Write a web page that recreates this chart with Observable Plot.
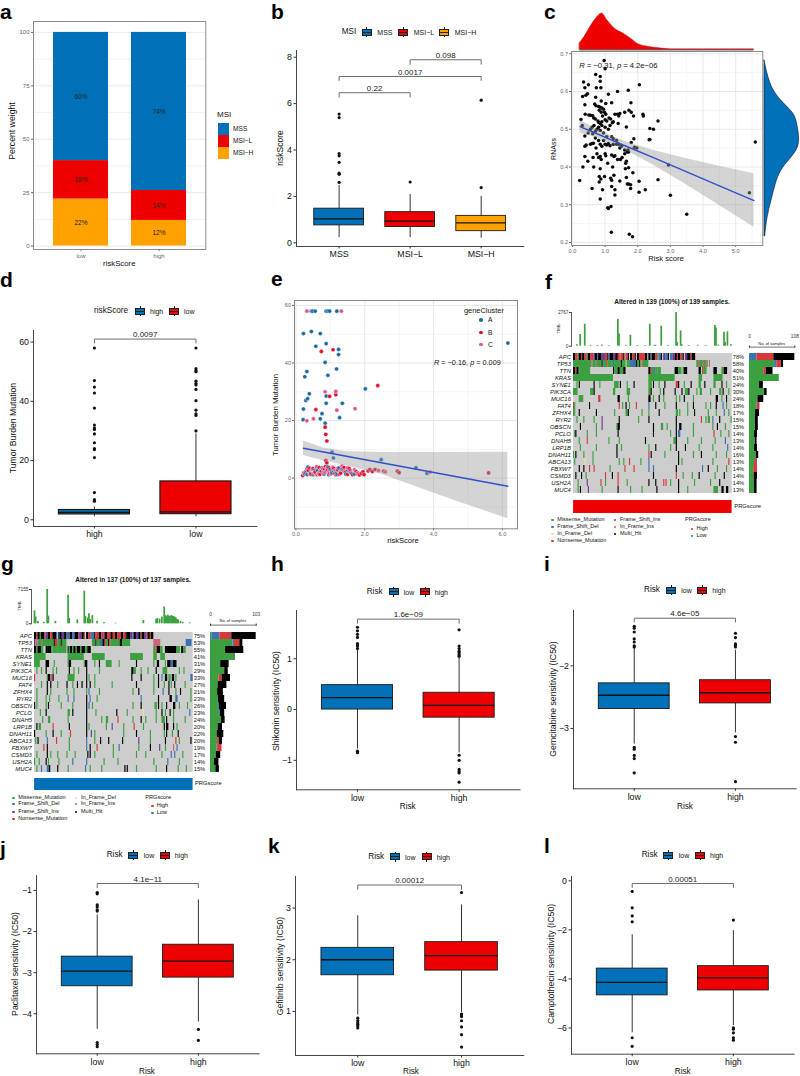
<!doctype html>
<html><head><meta charset="utf-8">
<script src="https://cdn.jsdelivr.net/npm/d3@7"></script>
<script src="https://cdn.jsdelivr.net/npm/@observablehq/plot@0.6"></script>
<style>
html,body{margin:0;background:#fff}
#page{position:relative;width:800px;height:1076px;overflow:hidden;font-family:"Liberation Sans",Arial,sans-serif;color:#111}
.t{position:absolute;white-space:nowrap;line-height:1}
.k{position:absolute;box-sizing:border-box}
</style></head><body><div id="page"></div>
<script>
const BLUE="#0070B8", RED="#EE0000", ORANGE="#FFA200";
// ---- panel a
const aRisk=["low","high"], aMsi=["MSI−H","MSI−L","MSS"], aColors=[ORANGE,RED,BLUE];
const aLow=[22,18,60], aHigh=[12,14,74];
// ---- panel b: [whiskerLow,q1,median,q3,whiskerHigh]
const bLabels=["MSS","MSI−L","MSI−H"];
const bStats=[[.22,.75,1.03,1.47,2.47],[.22,.68,.93,1.32,2.08],[.2,.5,.86,1.16,2]];
const bOut=[[2.6,2.95,3,3.47,3.75,3.85,5.4,5.55],[2.62],[2.38,6.15]];
// ---- panel c
const cPoints=[[.97,.682],[1,.66],[.71,.645],[.85,.64],[.34,.625],[.49,.618],[.85,.627],[.73,.61],[.87,.61],[.38,.61],[2.05,.618],[1.38,.6],[1.71,.603],[1.1,.593],[.46,.594],[.41,.59],[.31,.587],[.71,.585],[.38,.565],[.68,.567],[.72,.562],[.8,.56],[.88,.575],[1.02,.568],[1.2,.57],[1.79,.57],[.85,.558],[.9,.556],[.95,.553],[.82,.55],[.88,.545],[.98,.545],[1.02,.54],[.92,.535],[.5,.538],[.55,.537],[.62,.536],[.65,.53],[.39,.54],[.26,.526],[.7,.527],[.78,.522],[.8,.518],[.85,.515],[.9,.52],[1.0,.525],[1.05,.522],[1.12,.53],[1.17,.527],[1.22,.517],[1.25,.52],[1.3,.54],[1.38,.54],[1.42,.535],[1.45,.542],[1.6,.545],[1.73,.55],[1.8,.545],[1.87,.535],[2.17,.535],[2.16,.54],[2.62,.522],[.3,.51],[.38,.482],[.48,.49],[.55,.5],[.6,.505],[.62,.488],[.66,.51],[.7,.495],[.75,.5],[.8,.505],[.85,.497],[.9,.51],[.95,.49],[1.0,.505],[1.05,.48],[1.1,.5],[1.15,.51],[1.2,.48],[1.25,.475],[1.35,.47],[1.4,.515],[1.42,.46],[1.65,.506],[2.37,.502],[2.48,.5],[2.37,.473],[2.35,.472],[1.88,.475],[1.8,.465],[.38,.455],[.42,.458],[.55,.46],[.6,.462],[.64,.463],[.7,.477],[.72,.45],[.8,.47],[.85,.46],[.9,.455],[.95,.47],[1.0,.46],[1.05,.458],[1.1,.462],[1.15,.456],[1.25,.46],[1.3,.43],[1.35,.46],[1.45,.45],[1.5,.455],[1.6,.445],[1.68,.44],[1.7,.445],[1.72,.44],[1.9,.452],[1.97,.45],[.38,.428],[.75,.435],[.63,.425],[.8,.425],[.85,.428],[.88,.42],[1,.435],[1.02,.43],[1.2,.432],[1.27,.428],[1.38,.42],[1.47,.42],[1.52,.425],[1.6,.435],[1.63,.41],[1.65,.415],[.65,.4],[.32,.4],[.47,.415],[.85,.395],[1.08,.41],[1.23,.4],[1.62,.395],[1.72,.398],[1.85,.385],[2.94,.405],[.82,.375],[.98,.375],[.87,.368],[.82,.36],[1.17,.37],[1.2,.365],[1.27,.378],[1.45,.363],[1.65,.372],[1.72,.355],[1.78,.353],[.22,.364],[.6,.343],[.92,.34],[1.2,.348],[1.3,.34],[1.3,.326],[1.68,.355],[1.78,.343],[2.04,.362],[2.04,.333],[2.23,.34],[2.62,.366],[3,.325],[5.42,.332],[5.6,.466],[.85,.315],[1.08,.292],[1.1,.29],[1.18,.295],[1.19,.227],[1.74,.222],[1.84,.215],[3.5,.275]];
const cBandX=[.23,.7,1.2,1.7,2.5,3.5,4.5,5.56];
const cBandFit=[.507,.49,.471,.453,.424,.387,.35,.311];
const cBandLo=[.49,.478,.46,.441,.404,.352,.298,.24];
const cBandHi=[.524,.502,.482,.465,.444,.422,.402,.382];
const cTopX=[.22,.36,.56,.77,.9,1.07,1.33,1.58,1.79,2.04,2.3,2.6,3.11,4,5,5.56];
const cTopD=[.185,.35,.65,.91,1,.81,.56,.44,.31,.15,.09,.055,.02,.02,.02,.02];
const cSideY=[.682,.647,.603,.567,.541,.514,.47,.444,.417,.391,.355,.311,.267,.216];
const cSideD=[0,.08,.217,.547,.85,.925,1,.925,.69,.45,.31,.2,.075,.02];
// ---- panel d
const dLabels=["high","low"];
const dStats=[[1,1.8,2.5,3.3,4.3],[1,1.9,2.7,12.95,29]];
const dOut=[[58,47,44.8,42.8,37.7,32,31,30.5,29,26,24,23.7,21,9.2,6.8,6.3],[58,51,50.3,50,46.8,46,45.5,44,40.2,37,35.8,35.2,30]];
// ---- panel e
const eA=[[.45,58],[.49,58],[.56,58],[.88,58],[.93,58],[.98,58],[1.19,58],[.22,50.2],[.45,50.9],[.71,50.2],[.58,45.8],[.88,46.7],[1.24,44.7],[1.24,42.9],[.85,40.2],[1.18,37.9],[.32,37],[.26,35.2],[.93,35.7],[2.02,31],[.39,29.3],[.88,28.5],[.34,27.6],[.29,27],[.88,26],[1.35,26],[.22,24],[.21,20.3],[1.27,21],[.76,22.4],[.71,20.6],[.85,19.1],[6.16,46.9],[1.05,9],[1.09,7],[2.48,6.4],[3.49,3.6],[3.81,1.6],[.25,1.5],[.3,2.5],[.35,3.8],[.42,1.7],[.5,1.2],[.55,2.8],[.6,3.4],[.66,1.5],[.7,2.2],[.76,3.6],[.82,1.4],[.9,2.6],[.95,1.2],[1,3.1],[1.05,1.8],[1.1,2.4],[1.2,1.3],[1.25,3.5],[1.3,1.9],[1.38,2.7],[1.45,1.4],[1.55,2.2],[1.62,1.6],[.33,1.2],[.47,3.1],[.63,2.6],[.79,1.9],[.93,3.9],[1.07,3.3],[1.17,1.7],[1.33,3.1],[1.5,2.8],[1.7,1.4]];
const eB=[[.74,44],[1.08,44.6],[2.38,32.1],[1.16,29],[.98,28.4],[.58,23.8],[.85,17.7],[.87,15.2],[.9,12.9],[.87,6.1],[.9,5.3],[.2,.9],[.28,1.9],[.36,2.7],[.44,1.3],[.5,3.3],[.56,2.1],[.62,1.2],[.68,3.7],[.74,2.4],[.8,1.5],[.86,4],[.92,2.9],[.98,1.6],[1.04,2.3],[1.1,3.4],[1.16,1.2],[1.22,2.8],[1.3,1.7],[1.36,3.2],[1.44,2],[1.5,1.3],[1.58,2.5],[1.65,1.2],[1.75,2.3],[1.85,1.1],[1.9,1.6],[1.98,1.2],[2.1,2.5],[2.15,3],[2.22,2.3],[2.3,3],[2.55,2.4],[2.95,2.4],[3,1.9],[5.6,1.8],[.4,3.4],[.52,1.7],[.7,1.3],[.83,3.1],[.96,3.6],[1.12,1.6],[1.26,1.4],[1.4,3.7],[1.55,3.3],[1.78,1.5],[1.95,2.2]];
const eC=[[.32,58],[1.32,58],[.85,30],[1.16,30.1],[1.19,23.6],[1.72,24.1],[.51,20.6],[.32,19.9],[.22,1.8],[.32,3.2],[.4,1.4],[.48,3],[.54,2],[.6,3.9],[.66,1.6],[.72,2.7],[.78,3.2],[.84,1.9],[.9,3.4],[.96,2.2],[1.02,1.4],[1.08,3.8],[1.14,2.7],[1.2,3.3],[1.28,2.2],[1.34,4.2],[1.42,2.5],[1.5,3.6],[1.6,1.9],[1.7,2.9],[1.8,1.8],[2.4,2.6],[2.6,2.2],[3.9,2.1]];
const eLineX=[.22,6.16], eLineY=[10.4,-2.8];
const eBandX=[.22,.8,1.5,2.5,3.5,4.5,6.16];
const eBandLo=[7.9,6,4.2,1.3,-3,-7.3,-14.1];
const eBandHi=[12.9,10.5,9.2,8.9,8.9,8.9,9];
// ---- oncoplots
const genes=["APC","TP53","TTN","KRAS","SYNE1","PIK3CA","MUC16","FAT4","ZFHX4","RYR2","OBSCN","PCLO","DNAH5","LRP1B","DNAH11","ABCA13","FBXW7","CSMD3","USH2A","MUC4"];
const mutCodes=["g","b","y","r","p","o","k"];
const mutNames=["Missense_Mutation","Frame_Shift_Del","In_Frame_Del","Nonsense_Mutation","Frame_Shift_Ins","In_Frame_Ins","Multi_Hit"];
const mutColors=["#3CA040","#3A73B0","#E8E49A","#D9383A","#6A3D9A","#C9657A","#000000"];
const fPct=[78,58,40,51,24,30,24,18,17,15,15,14,13,14,16,13,14,14,14,13];
const gPct=[75,53,55,41,31,29,33,27,21,23,26,23,24,20,22,20,19,17,14,15];
const fRows=[
"0.2k 2.2r 4.1g 5.2k 7.1r 8.2k 10.2r 12.1g 13.2k 15.3r 18.1p 19.2k 21.1b 22.3k 25.3p 28.2r 30.1k 31.1b 32.3k 35.2p 37.3k 39.2r 41.1o 42.2r 44.1k 46.2r 48.1k 50.2k 52.2r 54.1k 56.2k 58.5r 63.2k 66.2k 68.1b 69.3k 72.2r 74.1g 75.2b 77.1k 79.2p 81.2b 83.1k 85.2b 87.2p 89.2k 91.1r 92.2k 94.2r 96.1k 98.2p 100.3k 103.1r 104.3k",
"0.16g 16.1o 17.3g 20.1o 21.4g 25.1k 26.3g 29.1r 30.4g 34.1g 35.1b 36.6g 42.1k 43.3g 47.3g 50.5b 55.1k 56.2g 58.1k 60.1r 61.5g 108.2g 110.1r 111.2g 113.1o 114.2g 116.1r 117.1g 119.1o",
"0.2k 2.1r 3.2k 5.1g 6.9g 35.1k 36.3g 39.2k 41.3g 44.2k 66.2k 68.1r 69.2g 71.1b 72.2g 74.3g 89.3k 92.3g 96.1g 97.3k 110.2k 113.1r 114.3g 123.3k 130.2g 132.3k",
"0.35g 66.23g 110.3g 123.8g",
"3.1g 5.1k 18.1k 23.1g 36.4g 41.1k 47.1g 53.1k 66.3g 70.1k 75.1g 80.1k 90.2r 92.1k 97.1g 103.1k 110.2g 115.1k 123.2g 130.1k 134.1g",
"0.4g 15.3g 18.1k 35.2g 47.3g 66.2g 68.1k 76.1g 79.1k 89.1k 95.1k 98.3g 101.1k 108.1g 111.2g 120.1g 128.2g 131.1k 136.1g",
"5.3g 8.1g 22.2r 39.2k 48.1g 66.2k 70.1g 75.1k 79.1g 90.1g 93.1g 97.1k 105.1g 125.2k 130.1g 134.1k",
"0.1r 1.1g 14.1k 40.1r 43.1g 46.1k 49.1g 55.1r 66.1b 72.1k 80.1g 90.1k 100.1g 105.1k 116.1g 120.1g 125.1k 131.1b 134.1g",
"0.1g 1.1g 5.1k 20.1k 36.1g 46.2g 48.1k 60.1g 66.1g 75.1k 90.2g 93.1g 100.1g 106.1k 118.1g 125.1g 132.1b 136.1g",
"3.1g 9.1g 18.1g 25.1p 40.1k 57.1g 66.1k 90.1k 112.1r 116.1g 118.2g 122.1b 128.1k 138.1g",
"6.1k 20.1g 25.1p 38.1g 39.2k 70.1k 77.2g 82.1g 90.1k 93.2k 105.1g 122.1g 126.1k 133.1g",
"1.1g 2.1k 12.1g 20.1g 39.1k 70.1k 85.1g 90.1k 92.2b 105.1g 123.1r 129.1g 136.1g",
"5.1g 12.1r 31.1g 40.1g 63.1k 88.2g 90.1k 100.1g 112.1g 124.1g 133.1b",
"6.1g 20.1g 38.1k 42.1g 66.1g 72.1k 85.1g 90.1k 98.1k 110.1g 122.1g 135.1b",
"0.1g 2.1k 9.1g 17.1g 38.1k 66.1r 68.1k 80.1g 92.1k 105.1g 112.1k 125.1g 134.1g",
"1.1g 10.1y 17.1g 40.1g 44.1g 49.1r 59.1g 66.1b 92.1k 95.1g 122.1g 136.1r",
"5.1k 9.1k 14.1r 18.1r 32.1g 45.1r 53.1r 66.1b 70.1b 90.1k 113.1b 118.1k 126.1g 134.1g",
"2.1k 7.1k 11.1g 28.1r 34.1k 39.1r 70.1k 90.1r 96.1g 104.1g 110.1k 124.1g 132.1k",
"4.1g 12.1p 24.1r 28.1g 39.1r 47.1g 66.1k 72.1k 79.1r 81.1r 85.1g 92.1k 106.1g 120.1g 128.1k",
"4.1g 6.1k 13.1p 25.1g 39.1k 50.1g 60.1g 73.1k 92.1k 100.1g 123.4g 130.2k 134.2k"];
const gRows=[
"0.2k 2.1r 3.2k 5.1g 6.3k 9.1r 10.2p 12.2k 14.2r 16.3k 19.1b 21.1k 22.2k 24.2p 26.2k 28.3b 31.2k 33.2b 35.3k 38.1r 39.2p 41.2k 43.1r 45.2k 47.2r 49.1b 50.2b 52.1k 53.3r 56.2k 58.2r 60.1p 61.2k 63.3r 66.2k 68.2r 70.2k 72.3r 75.2k 77.2r 79.1k 80.3k 83.2p 85.1b 86.2k 88.2p 90.2k 92.1r 93.2k 95.2p 97.1r 98.2k 100.1r 101.2k",
"0.1p 1.2o 3.3g 6.1o 7.10g 17.1k 18.2r 20.3g 23.1k 24.4g 50.3g 53.1k 54.3g 57.2b 59.2k 61.1r 62.2g 64.1k 65.1r 66.8g 74.2k 76.7g 103.6o 131.5b",
"0.2k 2.1g 3.3k 6.2g 10.2k 12.3k 15.1g 16.4g 20.8g 29.1k 30.1g 31.2k 33.1g 34.2k 36.1g 37.3k 40.1g 41.3k 44.2g 46.3k 103.2g 105.1r 106.3k 109.2g 113.10k 123.3g 127.2k 129.2g",
"0.10g 29.14g 50.11g 83.11g 103.3g 109.4g",
"0.5g 10.3k 17.1g 29.1g 30.2k 43.1g 44.2k 52.1g 56.1k 62.5g 73.1g 88.1k 103.1g 106.2k 113.1g 115.3k 118.2b 120.3k",
"2.1g 6.1g 10.1k 16.1g 19.1g 30.1k 34.1g 38.1g 45.1k 56.1g 84.2k 86.2g 92.1g 98.1g 105.1k 111.4g 125.1g 129.1g",
"0.1r 11.1g 12.2k 14.2o 16.1k 29.6g 45.1k 47.1g 52.1g 84.1k 92.1k 103.1g 107.1k 110.1b 113.2k 116.2g 119.2k 122.1g 135.2b",
"6.1g 11.1k 14.1k 20.1g 28.1k 33.1g 37.1k 41.1k 45.1k 48.1k 52.1g 67.1g 88.1k 103.1g 107.1k 112.1g 116.1k 118.1g 121.1k 130.1g",
"2.1g 11.1k 14.1g 28.1g 34.1g 45.1g 47.1b 56.1g 85.1g 90.1k 103.1g 111.1b 116.1k 122.1g 126.1k 135.1g",
"2.1g 10.1g 13.1g 21.1g 29.1b 34.1b 45.1k 48.1b 54.1g 92.1b 107.1k 117.2k 122.2b 135.1g",
"0.1k 2.1g 10.1g 12.1k 23.1g 33.1g 45.1k 47.1b 50.1g 85.1g 92.1k 104.2g 107.1k 110.1g 114.1k 120.2k 125.1g 132.1g",
"5.1g 10.1k 29.2g 33.1k 45.1k 53.1g 71.1k 80.1g 94.1y 105.1g 110.1k 113.1g 117.1k 120.1g 134.1b",
"7.1g 12.2g 29.1g 45.1k 58.1g 62.2g 72.1r 85.1g 92.1k 96.1g 105.1g 110.3g 114.1k 120.1g 130.1g",
"2.1k 4.2g 16.1r 30.1k 45.1k 47.1g 62.1g 67.1p 77.1g 86.1r 94.1g 112.1k 114.2k 120.1k 123.1g",
"0.1k 10.1g 16.1k 23.1g 31.1r 45.1k 49.1p 52.1g 77.1g 88.1k 100.1g 112.1g 114.1k 119.1g 124.1k",
"1.1g 3.1k 11.1b 19.1r 30.1g 45.1b 52.1g 57.1k 64.1k 76.1k 90.1p 100.1g 113.1k 122.1r 125.1g 135.1k",
"8.1r 11.1k 30.1g 45.1b 48.1k 54.1r 68.1g 73.1b 90.1g 100.1k 108.1p 113.1g 120.1o 123.1b",
"2.1g 11.1k 14.1g 20.1g 28.1g 35.1g 46.1k 48.1k 52.1g 68.1g 88.1g 96.1g 110.1g 118.1b 121.1b 128.1g",
"0.1g 4.1g 10.1k 12.1g 21.1g 33.1b 45.1b 60.1g 72.1g 103.1g 115.1b 125.1g",
"2.1g 6.1b 11.2b 13.1k 20.1k 29.1g 44.1b 48.1g 58.1g 78.1k 80.1k 88.1g 105.1g 114.1k 124.1g 131.1g"];
const fBars=[[0,18,40,50],[60,5,11,5],[34,0,6,16],[71,0,0,0],[24,0,0,9],[36,0,0,6],[20,0,0,14],[18,1,6,0],[14,0,0,10],[14,0,0,7],[14,0,0,7],[12,0,0,7],[14,0,0,4],[12,0,0,7],[16,0,0,6],[12,0,4,2],[10,0,9,0],[10,0,1,8],[12,0,0,6],[12,0,0,6]];
const gBars=[[3,18,27,55],[51,3,12,7],[34,0,0,41],[55,0,0,1],[23,0,0,19],[32,0,0,8],[19,0,7,19],[17,0,0,20],[16,0,0,13],[18,0,0,14],[18,2,0,16],[20,2,0,10],[25,0,0,8],[16,1,0,10],[15,0,0,15],[16,0,4,7],[15,1,10,0],[13,0,0,10],[9,0,0,10],[12,0,0,8]];
const barCols=["#3CA040","#3A73B0","#D9383A","#000000"];
const fTmbIdx=[2,5,9,14,20,24,30,38,39,45,49,55,62,66,70,71,76,82,89,90,93,94,100,108,115,123,124,126,131,132,134,137];
const fTmbVal=[120,950,1800,70,60,90,50,2200,1000,70,900,60,50,1800,60,80,1650,70,2767,300,1250,120,60,70,60,1700,1500,90,1150,300,1180,130];
const gTmbIdx=[0,1,3,8,11,12,18,29,30,37,43,44,46,47,48,50,54,60,70,94,105,106,108,110,112,113,114,115,116,117,118,119,120,121,122,123,124,126,128,134];
const gTmbVal=[2700,1400,500,300,7155,1600,500,5950,1100,800,6800,1500,1200,2100,900,1700,500,250,100,700,900,1100,1000,1400,3500,1700,1500,1800,1600,1500,1700,1600,1500,1400,1200,900,800,500,300,200];
// ---- drug panels
const riskLabels=["low","high"];
const hStats=[[-.78,0,.235,.48,1.19],[-.85,-.16,.08,.33,1.04]];
const hOut=[[1.62,1.55,1.48,1.42,1.3,1.27,1.25,1.2,-.82,-.85],[1.57,1.25,1.2,1.15,1.12,1.08,1.05,-.9,-1,-1.18,-1.22,-1.25,-1.43]];
const iStats=[[-3.25,-2.69,-2.47,-2.28,-1.72],[-3.07,-2.6,-2.43,-2.23,-1.75]];
const iOut=[[-1.37,-1.4,-1.46,-1.57,-1.62,-1.68,-1.7,-3.3,-3.33,-3.43,-3.48,-3.71],[-1.48,-1.55,-1.65,-1.67,-1.7,-3.13,-3.22,-3.85]];
const jStats=[[-4.38,-3.33,-2.96,-2.61,-1.6],[-4.2,-3.12,-2.72,-2.32,-1.23]];
const jOut=[[-1.05,-1.08,-1.35,-1.4,-1.47,-1.5,-4.7,-4.75,-4.8],[-4.38,-4.65]];
const kStats=[[.93,1.7,2,2.23,2.85],[.98,1.79,2.08,2.34,3.06]];
const kOut=[[.87,.82,.78,.75,.72,.68],[3.3,.95,.93,.9,.82,.7,.55,.31]];
const lStats=[[-6.2,-4.67,-4.14,-3.58,-2.2],[-5.9,-4.47,-3.96,-3.48,-2.03]];
const lOut=[[-.43,-1.1,-1.43,-1.67,-6.4,-6.75],[-1.6,-6,-6.05,-6.2,-6.4,-6.5]];

// ---- helpers
const page=document.getElementById("page");
function txt(x,y,s,o={}){
  const e=document.createElement("div");e.className="t";e.innerHTML=s;
  const size=o.size||8;
  e.style.cssText+=`left:${x}px;top:${y}px;font-size:${size}px;color:${o.color||"#111"};font-weight:${o.weight||"normal"};`;
  const tx=o.anchor==="middle"?"-50%":o.anchor==="end"?"-100%":"0";
  e.style.transform=`translate(${tx},-50%)`+(o.rotate?` rotate(${o.rotate}deg)`:"");
  page.append(e);
}
function ytitle(x,y,s,size=8.7){
  const e=document.createElement("div");e.className="t";e.textContent=s;
  e.style.cssText+=`left:${x}px;top:${y}px;font-size:${size}px;transform:translate(-50%,-50%) rotate(-90deg);color:#111`;
  page.append(e);
}
function place(x0,x1,y0,y1,m,spec){
  const [t,r,b,l]=m;
  const svg=Plot.plot({width:x1-x0+l+r,height:y1-y0+t+b,marginTop:t,marginRight:r,marginBottom:b,marginLeft:l,
    style:{background:"transparent",overflow:"visible",fontFamily:'"Liberation Sans",Arial,sans-serif',color:"#111"},...spec});
  svg.style.position="absolute";svg.style.left=(x0-l)+"px";svg.style.top=(y0-t)+"px";svg.style.maxWidth="none";
  page.append(svg);
}
function boxKey(x,y,c){
  const w=document.createElement("div");w.className="k";w.style.cssText+=`left:${x+4.5}px;top:${y-5}px;width:1px;height:10px;background:#222`;page.append(w);
  const b=document.createElement("div");b.className="k";b.style.cssText+=`left:${x}px;top:${y-3.5}px;width:10px;height:7px;background:${c};border:1px solid #222`;page.append(b);
  const m=document.createElement("div");m.className="k";m.style.cssText+=`left:${x}px;top:${y-.5}px;width:10px;height:1px;background:#222`;page.append(m);
}
function dotKey(x,y,c,s=2.6){
  const b=document.createElement("div");b.className="k";b.style.cssText+=`left:${x-s/2}px;top:${y-s/2}px;width:${s}px;height:${s}px;border-radius:50%;background:${c}`;page.append(b);
}
function boxPanel(c){
  const n=c.labels.length, hw=.35;
  const rows=c.stats.map((s,i)=>({pos:i+1,wl:s[0],q1:s[1],med:s[2],q3:s[3],wh:s[4],color:c.colors[i]}));
  const outs=c.out.flatMap((a,i)=>a.map(v=>({pos:i+1,v})));
  const brs=(c.brackets||[]);
  const brLines=brs.map(b=>Plot.line([[b.a,b.tip],[b.a,b.y],[b.b,b.y],[b.b,b.tip]],{stroke:"#6b6b6b",strokeWidth:b.w||1}));
  const brText=brs.map(b=>Plot.text([[(b.a+b.b)/2,b.y]],{text:[b.text],fontSize:8,dy:-4.5,fill:"#222"}));
  place(c.x0,c.x1,c.y0,c.y1,[4,4,24,24],{
    x:{domain:[.4,n+.6]},y:{domain:c.yd},color:{type:"identity"},
    marks:[
      Plot.frame({anchor:"left",stroke:"#444",strokeWidth:1}),
      Plot.frame({anchor:"bottom",stroke:"#444",strokeWidth:1}),
      Plot.axisX({ticks:rows.map(r=>r.pos),tickFormat:i=>c.labels[i-1],tickSize:2.5,tickPadding:2,fontSize:8.8,label:null,stroke:"#333"}),
      Plot.axisY({ticks:c.yt,tickFormat:d3.format("~g"),tickSize:2.5,tickPadding:2,fontSize:8.8,label:null,stroke:"#333"}),
      Plot.ruleX(rows,{x:"pos",y1:"wl",y2:"wh",stroke:"#333",strokeWidth:1}),
      Plot.rect(rows,{x1:d=>d.pos-hw,x2:d=>d.pos+hw,y1:"q1",y2:"q3",fill:"color",stroke:"#1a1a1a",strokeWidth:c.boxStroke||.9}),
      Plot.ruleY(rows,{y:"med",x1:d=>d.pos-hw,x2:d=>d.pos+hw,stroke:"#111",strokeWidth:1.3}),
      Plot.dot(outs,{x:"pos",y:"v",r:1.6,fill:"#111"}),
      ...brLines,...brText
    ]});
}
function riskLegend(title,xt,keys,y){
  txt(xt,y,title,{size:8.2});
  keys.forEach(k=>{boxKey(k.x,y,k.c);txt(k.tx,y,k.s,{size:7});});
}
function letter(x,cy,s){txt(x,cy,s,{size:21,weight:"bold",color:"#000"});}
function zipPts(a){return a.map(([x,y])=>({x,y}));}

// ---- letters
[[0,10.5,"a"],[271,10.5,"b"],[544,10.5,"c"],[0,279,"d"],[271,278,"e"],[545,281,"f"],[1,563,"g"],[271,563,"h"],[544,563,"i"],[0,848,"j"],[268,845,"k"],[544,845,"l"]].forEach(a=>letter(...a));

// ---- a
{
  const rows=aMsi.flatMap((m,i)=>[{risk:"low",m,pct:aLow[i],c:aColors[i]},{risk:"high",m,pct:aHigh[i],c:aColors[i]}]);
  place(32.7,205,21,249,[4,4,20,24],{
    x:{domain:aRisk,paddingInner:.3,paddingOuter:.25},y:{domain:[-1.6,105.1]},color:{type:"identity"},
    marks:[
      Plot.gridY([12.5,37.5,62.5,87.5],{stroke:"#f3f3f3",strokeOpacity:1}),
      Plot.gridY([0,25,50,75,100],{stroke:"#ebebeb",strokeOpacity:1}),
      Plot.axisX({tickSize:2,tickPadding:2,fontSize:6,label:null,color:"#666"}),
      Plot.axisY({ticks:[0,25,50,75,100],tickSize:2,tickPadding:2,fontSize:6,label:null,color:"#666"}),
      Plot.barY(rows,{x:"risk",y:"pct",fill:"c"}),
      Plot.text(rows,Plot.stackY({x:"risk",y:"pct",text:d=>d.pct+"%",fontSize:6.6,fill:"#222"})),
      Plot.frame({stroke:"#8a8a8a",strokeWidth:1})
    ]});
  ytitle(12.3,131,"Percent weight",8.7);
  txt(119.3,264.3,"riskScore",{size:7.8,anchor:"middle"});
  txt(217,115,"MSI",{size:8});
  [["MSS",BLUE,129],["MSI−L",RED,141],["MSI−H",ORANGE,153]].forEach(([s,c,y])=>{
    const b=document.createElement("div");b.className="k";b.style.cssText+=`left:217.5px;top:${y-5.8}px;width:11.6px;height:11.6px;background:${c}`;page.append(b);
    txt(233,y,s,{size:6.6});
  });
}
// ---- b
boxPanel({x0:295.7,x1:523,y0:50,y1:246,labels:bLabels,stats:bStats,out:bOut,colors:[BLUE,RED,ORANGE],yd:[-.16,8.29],yt:[0,2,4,6,8],
  brackets:[{a:1,b:2,y:6.47,tip:6.28,text:"0.22"},{a:1,b:3,y:7.17,tip:7,text:"0.0017"},{a:2,b:3,y:7.89,tip:7.7,text:"0.098"}]});
ytitle(280,148.3,"riskScore",8.5);
riskLegend("MSI",341.7,[{x:361.7,c:BLUE,tx:377.3,s:"MSS"},{x:398.3,c:RED,tx:413.7,s:"MSI−L"},{x:439.3,c:ORANGE,tx:454.7,s:"MSI−H"}],32);
// ---- c
{
  const pts=zipPts(cPoints);
  const band=cBandX.map((x,i)=>({x,lo:cBandLo[i],hi:cBandHi[i],fit:cBandFit[i]}));
  place(570.7,762,51,245,[4,4,20,24],{
    x:{domain:[-.03,5.83]},y:{domain:[.192,.706]},
    marks:[
      Plot.gridX([.5,1.5,2.5,3.5,4.5,5.5],{stroke:"#f4f4f4",strokeOpacity:1}),
      Plot.gridY([.25,.35,.45,.55,.65],{stroke:"#f4f4f4",strokeOpacity:1}),
      Plot.gridX([0,1,2,3,4,5],{stroke:"#e8e8e8",strokeOpacity:1}),
      Plot.gridY([.2,.3,.4,.5,.6,.7],{stroke:"#e8e8e8",strokeOpacity:1}),
      Plot.axisX({ticks:[0,1,2,3,4,5],tickSize:2,tickPadding:1.5,fontSize:5.6,label:null,color:"#666"}),
      Plot.axisY({ticks:[.2,.3,.4,.5,.6,.7],tickSize:2,tickPadding:1.5,fontSize:5.6,label:null,color:"#666",tickFormat:d3.format(".1f")}),
      Plot.dot(pts,{x:"x",y:"y",r:1.75,fill:"#0a0a0a"}),
      Plot.areaY(band,{x:"x",y1:"lo",y2:"hi",fill:"#999",fillOpacity:.42}),
      Plot.line(band,{x:"x",y:"fit",stroke:"#3050C8",strokeWidth:1.4}),
      Plot.frame({stroke:"#8a8a8a",strokeWidth:1})
    ]});
  place(570.7,762,13,49.5,[1,1,1,1],{x:{domain:[-.03,5.83],axis:null},y:{domain:[0,1],axis:null},
    marks:[Plot.areaY(cTopX.map((x,i)=>({x,d:cTopD[i]})),{x:"x",y:"d",fill:RED,stroke:"#c00",strokeWidth:.4,curve:"monotone-x"}),
           Plot.ruleY([0],{x1:.22,x2:5.56,stroke:"#333",strokeWidth:.8})]});
  place(764,799.5,51,245,[1,1,1,1],{y:{domain:[.192,.706],axis:null},x:{domain:[0,1],axis:null},
    marks:[Plot.areaX(cSideY.map((y,i)=>({y,d:cSideD[i]})),{y:"y",x:"d",fill:BLUE,stroke:"#113",strokeWidth:.6,curve:"basis"})]});
  ytitle(552.7,148.7,"RNAss",7);
  txt(666,259,"Risk score",{size:7.6,anchor:"middle"});
  txt(579.3,65.7,"<i>R</i> = −0.31, <i>p</i> = 4.2e−06",{size:7.6});
}
// ---- d
boxPanel({x0:33.3,x1:256.7,y0:330,y1:526,labels:dLabels,stats:dStats,out:dOut,colors:[BLUE,RED],yd:[-2.26,63.9],yt:[0,20,40,60],boxStroke:1.15,
  brackets:[{a:1,b:2,y:61,tip:59.7,text:"0.0097"}]});
ytitle(12.7,427.5,"Tumor Burden Mutation",8.65);
riskLegend("riskScore",94,[{x:135,c:BLUE,tx:150,s:"high"},{x:169,c:RED,tx:184,s:"low"}],311);
// ---- e
{
  const groups=[[eA,"#1A6AA6"],[eB,"#E01030"],[eC,"#E8508F"]];
  const band=eBandX.map((x,i)=>({x,lo:eBandLo[i],hi:eBandHi[i]}));
  const fit=eLineX.map((x,i)=>({x,y:eLineY[i]}));
  const allPts=d3.sort(groups.flatMap(([g,c])=>g.map(([x,y])=>({x,y,c}))),d=>d.x);
  place(294.3,517.3,300,528.3,[4,4,20,24],{
    x:{domain:[-.04,6.44]},y:{domain:[-17.6,61.7]},color:{type:"identity"},
    marks:[
      Plot.gridX([1,3,5],{stroke:"#f4f4f4",strokeOpacity:1}),
      Plot.gridY([-10,10,30,50],{stroke:"#f4f4f4",strokeOpacity:1}),
      Plot.gridX([0,2,4,6],{stroke:"#e8e8e8",strokeOpacity:1}),
      Plot.gridY([0,20,40,60],{stroke:"#e8e8e8",strokeOpacity:1}),
      Plot.axisX({ticks:[0,2,4,6],tickSize:2,tickPadding:1.5,fontSize:5.6,label:null,color:"#666"}),
      Plot.axisY({ticks:[0,20,40,60],tickSize:2,tickPadding:1.5,fontSize:5.6,label:null,color:"#666"}),
      Plot.dot(allPts,{x:"x",y:"y",r:2.1,fill:"c",stroke:"#fff",strokeWidth:.4}),
      Plot.areaY(band,{x:"x",y1:"lo",y2:"hi",fill:"#999",fillOpacity:.42}),
      Plot.line(fit,{x:"x",y:"y",stroke:"#3050C8",strokeWidth:1.4}),
      Plot.frame({stroke:"#8a8a8a",strokeWidth:1})
    ]});
  ytitle(276,415,"Tumor Burden Mutation",7.85);
  txt(403,541,"riskScore",{size:7.6,anchor:"middle"});
  txt(464,311,"geneCluster",{size:7.4});
  [["A","#1A6AA6",320],["B","#E01030",332.7],["C","#E8508F",344.7]].forEach(([s,c,y])=>{dotKey(481,y,c,3.6);txt(488,y,s,{size:6.6});});
  txt(434,363.3,"<i>R</i> = −0.16, <i>p</i> = 0.009",{size:7.3});
}
// ---- oncoplots
function onco(c){
  const cells=genes.flatMap((g,i)=>[...c.rows[i].matchAll(/(\d+)\.(\d+)([a-z])/g)].map(m=>({g,x1:+m[1],x2:+m[1]+ +m[2],t:m[3]})));
  const bg=genes.map(g=>({g,x1:0,x2:c.n}));
  const colorScale={domain:mutCodes,range:mutColors};
  // TMB
  const per=(c.x1-c.x0)/c.n;
  const tmb=c.tmbIdx.map((x,i)=>({x1:x,x2:x+1.5,v:c.tmbVal[i]}));
  place(c.x0-2.6,c.x1,c.tmbTop,c.tmbBot,[1,2,1,14],{
    x:{domain:[-2.6/per,c.n],axis:null},y:{domain:[0,c.tmbMax]},
    marks:[Plot.frame({anchor:"left",stroke:"#333",strokeWidth:.8}),
      Plot.axisY({ticks:[0,c.tmbMax],tickFormat:d=>String(d),tickSize:2,tickPadding:1,fontSize:4.8,label:null,color:"#333"}),
      Plot.rectY(tmb,{x1:"x1",x2:"x2",y:"v",fill:"#3CA040"})]});
  txt(c.x0-14,(c.tmbTop+c.tmbBot)/2,"TMB",{size:4.4,anchor:"middle",rotate:-90});
  // matrix
  place(c.x0,c.x1,c.top,c.bot,[1,22,1,40],{
    x:{domain:[0,c.n],axis:null},y:{domain:genes,padding:.07,label:null},color:colorScale,
    marks:[
      Plot.axisY({anchor:"left",tickSize:0,tickPadding:2.6,fontSize:5.9,fontStyle:"italic",label:null,color:"#111"}),
      Plot.axisY({anchor:"right",tickSize:0,tickPadding:.6,fontSize:5.7,label:null,color:"#111",tickFormat:g=>c.pct[genes.indexOf(g)]+"%"}),
      Plot.barX(bg,{x1:"x1",x2:"x2",y:"g",fill:"#CDCDCD"}),
      Plot.barX(cells,{x1:"x1",x2:"x2",y:"g",fill:"t"})
    ]});
  // side bars
  const stack=genes.flatMap((g,i)=>c.bars[i].map((n,j)=>({g,n,col:barCols[j],j})));
  place(c.bx0,c.bx1,c.top,c.bot,[14,3,1,3],{
    x:{domain:[0,c.bmax]},y:{domain:genes,padding:.07,axis:null},color:{type:"identity"},
    marks:[
      Plot.frame({anchor:"top",dy:-2.4,stroke:"#333",strokeWidth:.7}),
      Plot.axisX({anchor:"top",ticks:[0,c.bmax],tickSize:2,tickPadding:7,dy:-2.4,fontSize:4.8,label:null,color:"#333",tickFormat:d=>String(d)}),
      Plot.barX(stack,{x:"n",y:"g",fill:"col"})
    ]});
  txt((c.bx0+c.bx1)/2,c.top-5.6,"No. of samples",{size:4,anchor:"middle"});
  // annotation bar
  place(c.x0,c.x1,c.aTop,c.aBot,[0,1,0,1],{x:{domain:[0,c.n],axis:null},y:{domain:[0,1],axis:null},color:{type:"identity"},
    marks:[Plot.rect([{x1:0,x2:c.n,y1:0,y2:1,f:c.aCol}],{x1:"x1",x2:"x2",y1:"y1",y2:"y2",fill:"f"})]});
  txt(c.x1+2.3,(c.aTop+c.aBot)/2,"PRGscore",{size:5.8});
  txt((c.tx),c.ty,c.title,{size:6.5,weight:"bold",anchor:"middle"});
  // legend
  c.leg.forEach(([i,x,y])=>{dotKey(x-4.8,y,mutColors[i],2.4);txt(x,y,mutNames[i],{size:5.5});});
  txt(c.px,c.py[0],"PRGscore",{size:5.6});
  dotKey(c.px+7,c.py[1],"#D9383A",2.6);txt(c.px+11.5,c.py[1],"High",{size:5.5});
  dotKey(c.px+7,c.py[2],"#3A73B0",2.6);txt(c.px+11.5,c.py[2],"Low",{size:5.5});
}
onco({x0:573.3,x1:732,n:139,top:349.3,bot:497.3,rows:fRows,pct:fPct,bars:fBars,bx0:749,bx1:794.3,bmax:108,
  tmbTop:312.3,tmbBot:346,tmbMax:2767,tmbIdx:fTmbIdx,tmbVal:fTmbVal,aTop:500,aBot:513,aCol:RED,
  title:"Altered in 139 (100%) of 139 samples.",tx:672,ty:302,
  leg:[[0,557.3,520],[1,557.3,527],[2,557.3,534.3],[3,557.3,541],[4,620,520],[5,620,527],[6,620,534.3]],px:685,py:[520,529,536]});
onco({x0:34,x1:192.7,n:137,top:626.7,bot:775.7,rows:gRows,pct:gPct,bars:gBars,bx0:210,bx1:255.7,bmax:103,
  tmbTop:589,tmbBot:623.3,tmbMax:7155,tmbIdx:gTmbIdx,tmbVal:gTmbVal,aTop:778.3,aBot:790.3,aCol:BLUE,
  title:"Altered in 137 (100%) of 137 samples.",tx:133,ty:579.7,
  leg:[[0,18.3,797.7],[1,18.3,804.3],[4,18.3,811.7],[3,18.3,819],[2,81,797.7],[5,81,804.3],[6,81,811.7]],px:145.3,py:[797.7,806,813]});
// ---- drug panels
const RC=[BLUE,RED];
boxPanel({x0:295.7,x1:519.3,y0:610,y1:789.3,labels:riskLabels,stats:hStats,out:hOut,colors:RC,yd:[-1.58,1.95],yt:[-1,0,1],brackets:[{a:1,b:2,y:1.78,tip:1.7,text:"1.6e−09"}]});
ytitle(275.7,700.5,"Shikonin sensitivity (IC50)");txt(407.7,807,"Risk",{anchor:"middle",size:8.2});
riskLegend("Risk",366.7,[{x:388.7,c:BLUE,tx:403.7,s:"low"},{x:420,c:RED,tx:434.7,s:"high"}],591.7);
boxPanel({x0:573.3,x1:796,y0:610,y1:788.3,labels:riskLabels,stats:iStats,out:iOut,colors:RC,yd:[-3.963,-1.117],yt:[-3,-2],brackets:[{a:1,b:2,y:-1.24,tip:-1.3,text:"4.6e−05"}]});
ytitle(553.3,698.8,"Gemcitabine sensitivity (IC50)");txt(685,806.7,"Risk",{anchor:"middle",size:8.2});
riskLegend("Risk",644,[{x:666,c:BLUE,tx:681.3,s:"low"},{x:697.3,c:RED,tx:712.3,s:"high"}],590);
boxPanel({x0:35.7,x1:258.3,y0:875,y1:1053.3,labels:riskLabels,stats:jStats,out:jOut,colors:RC,yd:[-4.974,-.635],yt:[-4,-3,-2,-1],brackets:[{a:1,b:2,y:-.83,tip:-.93,text:"4.1e−11"}]});
ytitle(15.3,964,"Paclitaxel sensitivity (IC50)");txt(147,1071.7,"Risk",{anchor:"middle",size:8.2});
riskLegend("Risk",106.7,[{x:128,c:BLUE,tx:143.7,s:"low"},{x:160,c:RED,tx:174.7,s:"high"}],855);
boxPanel({x0:295,x1:523.3,y0:876,y1:1055,labels:riskLabels,stats:kStats,out:kOut,colors:RC,yd:[.148,3.61],yt:[1,2,3],brackets:[{a:1,b:2,y:3.445,tip:3.36,text:"0.00012"}]});
ytitle(280,965.8,"Gefitinib sensitivity (IC50)");txt(411,1072,"Risk",{anchor:"middle",size:8.2});
riskLegend("Risk",368.3,[{x:390,c:BLUE,tx:405,s:"low"},{x:421.7,c:RED,tx:436.7,s:"high"}],856.7);
boxPanel({x0:570.7,x1:793.3,y0:876,y1:1053.7,labels:riskLabels,stats:lStats,out:lOut,colors:RC,yd:[-7.07,.177],yt:[-6,-4,-2,0],brackets:[{a:1,b:2,y:-.11,tip:-.27,text:"0.00051"}]});
ytitle(550.7,964,"Camptothecin sensitivity (IC50)");txt(682.7,1071.7,"Risk",{anchor:"middle",size:8.2});
riskLegend("Risk",641.7,[{x:663,c:BLUE,tx:678.7,s:"low"},{x:695,c:RED,tx:710,s:"high"}],855);
</script></body></html>
